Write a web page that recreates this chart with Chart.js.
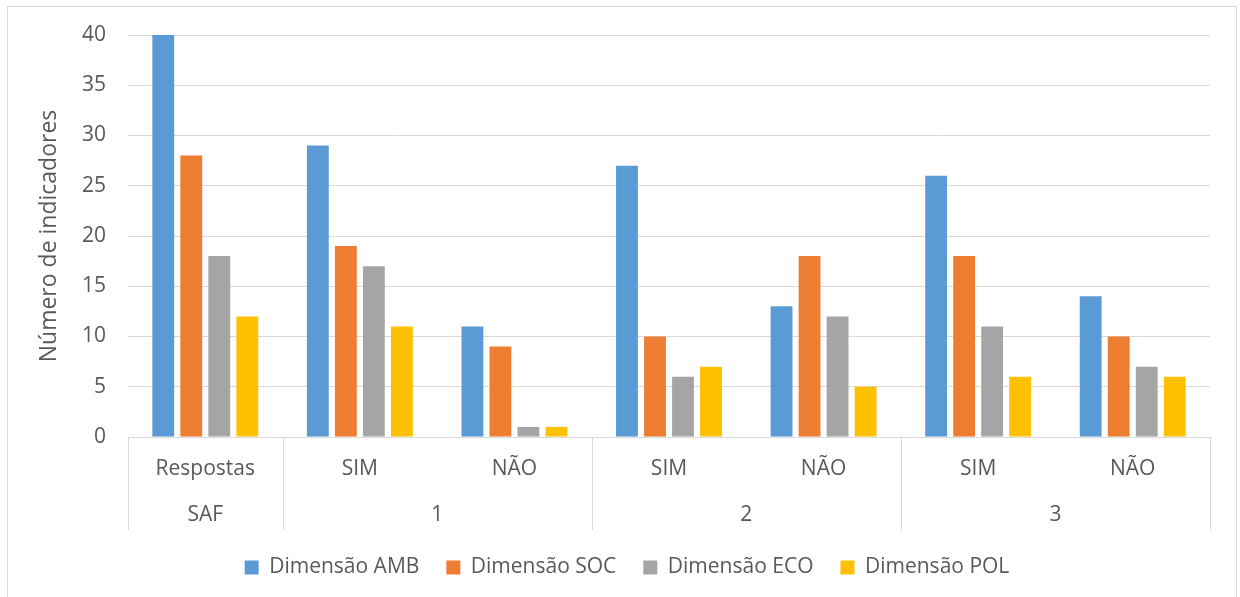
<!DOCTYPE html>
<html lang="pt">
<head>
<meta charset="utf-8">
<title>Número de indicadores por dimensão</title>
<script src="https://cdn.jsdelivr.net/npm/chart.js@4/dist/chart.umd.min.js"></script>
<style>
  html, body { margin: 0; padding: 0; background: #ffffff; }
  #wrap { position: relative; width: 1240px; height: 597px; overflow: hidden; }
  #frame { position: absolute; left: 7px; top: 6px; width: 1230px; height: 600px; border: 1px solid #d9d9d9; box-sizing: border-box; }
  #chart { position: absolute; left: 0; top: 0; }
</style>
</head>
<body>
<div id="wrap">
  <div id="frame"></div>
  <canvas id="chart" width="1240" height="597"></canvas>
</div>
<script>
// Inner category labels and the outer groups they belong to
const categories = ['Respostas', 'SIM', 'NÃO', 'SIM', 'NÃO', 'SIM', 'NÃO'];
const groupLabels = ['SAF', '1', '2', '3'];
const groupSizes = [1, 2, 2, 2];

// Number of indicators per dimension
const amb = [40, 29, 11, 27, 13, 26, 14];
const soc = [28, 19, 9, 10, 18, 18, 10];
const eco = [18, 17, 1, 6, 12, 11, 7];
const pol = [12, 11, 1, 7, 5, 6, 6];

const yTicks = [0, 5, 10, 15, 20, 25, 30, 35, 40];

const FONT = "'Open Sans', 'Liberation Sans', sans-serif";
const TEXT = '#595959';
const GRID = '#d9d9d9';

// Two-level category axis: inner labels, group labels and group separators
const multiLevelAxis = {
  id: 'multiLevelAxis',
  afterDraw(chart) {
    const { ctx, chartArea } = chart;
    const x = chart.scales.x;
    const base = chartArea.bottom;
    const n = categories.length;
    const edge = (i) => {
      if (i <= 0) return chartArea.left;
      if (i >= n) return chartArea.right;
      return (x.getPixelForValue(i - 1) + x.getPixelForValue(i)) / 2;
    };
    ctx.save();
    ctx.font = '21px ' + FONT;
    ctx.fillStyle = TEXT;
    ctx.textAlign = 'center';
    ctx.textBaseline = 'middle';
    categories.forEach((c, i) => {
      ctx.fillText(c, x.getPixelForValue(i), base + 32);
    });
    ctx.strokeStyle = GRID;
    ctx.lineWidth = 1;
    let start = 0;
    const bounds = [0];
    groupSizes.forEach((size, g) => {
      const end = start + size;
      const l = edge(start), r = edge(end);
      ctx.fillText(groupLabels[g], (l + r) / 2, base + 78);
      bounds.push(end);
      start = end;
    });
    bounds.forEach((b) => {
      const px = Math.round(edge(b)) + 0.5;
      ctx.beginPath();
      ctx.moveTo(px, base);
      ctx.lineTo(px, base + 93);
      ctx.stroke();
    });
    ctx.restore();
  }
};

// Nudge the legend row so it sits centred under the plot block
const legendShift = {
  id: 'legendShift',
  afterLayout(chart) {
    const lg = chart.legend;
    if (lg) { lg.left += 22; lg.right += 22; }
  }
};

const barStyle = { categoryPercentage: 0.725, barPercentage: 0.78 };

new Chart(document.getElementById('chart'), {
  type: 'bar',
  data: {
    labels: categories,
    datasets: [
      { label: 'Dimensão AMB', data: amb, backgroundColor: '#5b9bd5', ...barStyle },
      { label: 'Dimensão SOC', data: soc, backgroundColor: '#ed7d31', ...barStyle },
      { label: 'Dimensão ECO', data: eco, backgroundColor: '#a5a5a5', ...barStyle },
      { label: 'Dimensão POL', data: pol, backgroundColor: '#ffc000', ...barStyle }
    ]
  },
  options: {
    responsive: false,
    animation: false,
    events: [],
    layout: { padding: { top: 35, right: 30, left: 0, bottom: 9 } },
    plugins: {
      tooltip: { enabled: false },
      legend: {
        position: 'bottom',
        labels: {
          boxWidth: 14,
          boxHeight: 14,
          padding: 27,
          color: TEXT,
          font: { family: FONT, size: 21 }
        }
      }
    },
    scales: {
      x: {
        grid: { display: false },
        border: { display: false },
        ticks: { display: false },
        afterFit(scale) { scale.height = 93; }
      },
      y: {
        min: 0,
        max: 40,
        afterBuildTicks(scale) { scale.ticks = yTicks.map(v => ({ value: v })); },
        afterFit(scale) { scale.width = 128; },
        grid: { color: GRID, lineWidth: 1, drawTicks: false },
        border: { display: false },
        ticks: {
          padding: 22,
          color: TEXT,
          font: { family: FONT, size: 21 }
        },
        title: {
          display: true,
          text: 'Número de indicadores',
          color: TEXT,
          padding: { top: 36, bottom: 0 },
          font: { family: FONT, size: 23 }
        }
      }
    }
  },
  plugins: [multiLevelAxis, legendShift]
});
</script>
</body>
</html>
